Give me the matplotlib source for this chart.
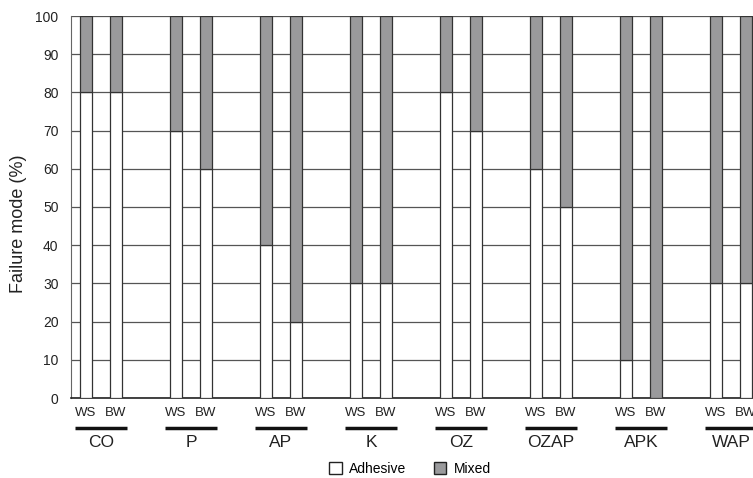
import matplotlib.pyplot as plt
from matplotlib.patches import Patch

plt.rcParams['font.family'] = ['Liberation Sans', 'DejaVu Sans']

groups = ['CO', 'P', 'AP', 'K', 'OZ', 'OZAP', 'APK', 'WAP']
subs = ['WS', 'BW']
adhesive_ws = [80, 70, 40, 30, 80, 60, 10, 30]
adhesive_bw = [80, 60, 20, 30, 70, 50, 0, 30]

gray = '#9a9a9c'
edge = '#333333'

fig = plt.figure(figsize=(7.53, 4.78), dpi=100)
# axes runs past the right edge, as in the cropped original
ax = fig.add_axes([71 / 753, 1 - 398 / 478, 705 / 753, 382 / 478])

w = 0.4
for i, g in enumerate(groups):
    for j, vals in enumerate([adhesive_ws, adhesive_bw]):
        x = 3 * i + j
        a = vals[i]
        ax.bar(x, a, width=w, color='white', edgecolor=edge, linewidth=0.9, zorder=3)
        ax.bar(x, 100 - a, bottom=a, width=w, color=gray, edgecolor=edge, linewidth=0.9, zorder=3)
        ax.text(x, -2.3, subs[j], ha='center', va='top', fontsize=9.5, color='#222222')
    ax.plot([3 * i - 0.38, 3 * i + 1.38], [-7.8, -7.8], color='#111111', lw=2.5,
            clip_on=False, solid_capstyle='butt')
    ax.text(3 * i + 0.5, -9.8, g, ha='center', va='top', fontsize=12.5, color='#222222')

ax.set_xlim(-0.5, 23)
ax.set_ylim(0, 100)
ax.set_yticks(range(0, 101, 10))
ax.yaxis.grid(True, color='#555555', lw=0.9, zorder=0)
ax.set_axisbelow(True)
ax.set_xticks([])
ax.tick_params(axis='y', length=0, pad=9, labelsize=10, labelcolor='#222222')
for s in ['top', 'right']:
    ax.spines[s].set_visible(False)
ax.spines['left'].set_color('#666666')
ax.spines['bottom'].set_color('#222222')
ax.spines['bottom'].set_linewidth(1.2)
ax.set_ylabel('Failure mode (%)', fontsize=13, color='#222222')
ax.yaxis.set_label_coords(-44 / 705, 0.455)

handles = [Patch(facecolor='white', edgecolor='#222222', label='Adhesive'),
           Patch(facecolor=gray, edgecolor='#222222', label='Mixed')]
fig.legend(handles=handles, loc='center', bbox_to_anchor=(410 / 753, 1 - 469 / 478),
           ncol=2, frameon=False, fontsize=10, handlelength=0.9, handleheight=0.9,
           columnspacing=2.0, handletextpad=0.5)

fig.savefig('out.png', dpi=100)
